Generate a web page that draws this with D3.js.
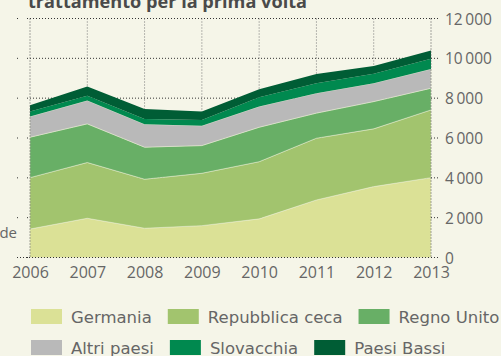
<!DOCTYPE html>
<html>
<head>
<meta charset="utf-8">
<script src="https://cdn.jsdelivr.net/npm/d3@7"></script>
<style>
  html, body { margin: 0; padding: 0; background: #f5f5e8; }
  svg { display: block; }
</style>
</head>
<body>
<svg id="chart" width="501" height="356"></svg>
<script>
// Pazienti in trattamento per la prima volta, per paese di provenienza
const years = [2006, 2007, 2008, 2009, 2010, 2011, 2012, 2013];
const seriesNames = ["Germania", "Repubblica ceca", "Regno Unito", "Altri paesi", "Slovacchia", "Paesi Bassi"];
const germania       = [1430, 1970, 1470, 1600, 1940, 2890, 3560, 4010];
const repubblicaCeca = [2580, 2800, 2460, 2630, 2870, 3100, 2900, 3400];
const regnoUnito     = [2030, 1940, 1610, 1390, 1730, 1260, 1370, 1090];
const altriPaesi     = [1035, 1170, 1150,  990, 1040, 1000,  920,  960];
const slovacchia     = [ 255,  240,  270,  300,  470,  500,  470,  515];
const paesiBassi     = [ 320,  460,  490,  420,  400,  460,  400,  415];
const yTicks = [0, 2000, 4000, 6000, 8000, 10000, 12000];
const colors = ["#dbe196", "#a2c46e", "#68af66", "#b9b9b9", "#00894f", "#005d35"];
const titleText = "trattamento per la prima volta";

const seriesValues = [germania, repubblicaCeca, regnoUnito, altriPaesi, slovacchia, paesiBassi];
const rows = years.map((y, i) => {
  const r = { year: y };
  seriesNames.forEach((n, k) => { r[n] = seriesValues[k][i]; });
  return r;
});

const svg = d3.select("#chart");
const font = "'Open Sans', 'Liberation Sans', sans-serif";
const legendFont = "'DejaVu Sans', 'Open Sans', sans-serif";
const textColor = "#666";

const x = d3.scaleLinear().domain([2006, 2013]).range([30, 431]);
const y = d3.scaleLinear().domain([0, 12000]).range([257.5, 18.5]);

// Titolo (parzialmente fuori dal riquadro in alto)
svg.append("text")
  .attr("x", 28).attr("y", 8)
  .attr("font-family", font).attr("font-weight", 700).attr("font-size", 17)
  .attr("fill", "#4a4a4a")
  .attr("textLength", 279).attr("lengthAdjust", "spacingAndGlyphs")
  .text(titleText);

// Coda dell'etichetta dell'asse verticale
svg.append("text")
  .attr("x", 17).attr("y", 238).attr("text-anchor", "end")
  .attr("font-family", font).attr("font-size", 15).attr("fill", textColor)
  .text("de");

// Griglia punteggiata
const grid = svg.append("g");
grid.selectAll("line.h").data(yTicks.filter(t => t > 0)).join("line")
  .attr("x1", 30).attr("x2", 431)
  .attr("y1", d => y(d)).attr("y2", d => y(d))
  .attr("stroke", "#333").attr("stroke-width", 1).attr("stroke-dasharray", "1,2");
grid.selectAll("line.v").data(years.slice(1, -1)).join("line")
  .attr("x1", d => x(d)).attr("x2", d => x(d))
  .attr("y1", y(12000)).attr("y2", y(0))
  .attr("stroke", "#777").attr("stroke-width", 1).attr("stroke-dasharray", "1,2");

// Aree impilate
const stack = d3.stack().keys(seriesNames);
const layers = stack(rows);
const area = d3.area()
  .x(d => x(d.data.year))
  .y0(d => y(d[0]))
  .y1(d => y(d[1]));
svg.append("g").selectAll("path").data(layers).join("path")
  .attr("d", area)
  .attr("fill", (d, i) => colors[i])
  .attr("stroke", (d, i) => i < 4 ? "#eef0d8" : "none")
  .attr("stroke-width", 0.6)
  .attr("stroke-opacity", 0.8);

// Bordi del grafico e tacche
const frame = svg.append("g");
[2006, 2013].forEach(yr => {
  frame.append("line")
    .attr("x1", x(yr)).attr("x2", x(yr))
    .attr("y1", y(12000)).attr("y2", y(0))
    .attr("stroke", "#555").attr("stroke-width", 1).attr("stroke-dasharray", "1,2");
});
frame.append("line")
  .attr("x1", 17).attr("x2", 431).attr("y1", y(0)).attr("y2", y(0))
  .attr("stroke", "#333").attr("stroke-width", 1).attr("stroke-dasharray", "1,2");
frame.selectAll("line.lt").data(yTicks).join("line")
  .attr("x1", 17).attr("x2", 30)
  .attr("y1", d => y(d)).attr("y2", d => y(d))
  .attr("stroke", "#333").attr("stroke-dasharray", "1,9");
frame.selectAll("line.rt").data(yTicks).join("line")
  .attr("x1", 431).attr("x2", 439)
  .attr("y1", d => y(d)).attr("y2", d => y(d))
  .attr("stroke", "#333").attr("stroke-dasharray", "1,2");

// Asse verticale a destra
const locale = d3.formatLocale({ thousands: "\u2009", grouping: [3], decimal: ",", currency: ["", "€"] });
const fmt = locale.format(",d");
const yAxis = d3.axisRight(y).tickValues(yTicks).tickFormat(fmt).tickSize(0).tickPadding(0);
const gy = svg.append("g").attr("transform", "translate(445,0)").call(yAxis);
gy.select(".domain").remove();
gy.selectAll("text")
  .attr("font-family", font).attr("font-size", 15.5).attr("fill", textColor)
  .attr("dy", "0.36em");

// Asse orizzontale
const xAxis = d3.axisBottom(x).tickValues(years).tickFormat(d3.format("d")).tickSize(0).tickPadding(0);
const gx = svg.append("g").attr("transform", "translate(0,278)").call(xAxis);
gx.select(".domain").remove();
gx.selectAll("text")
  .attr("font-family", font).attr("font-size", 16).attr("fill", textColor)
  .attr("dy", 0);

// Legenda a flusso su due righe
const legendRows = [[0, 1, 2], [3, 4, 5]];
const legend = svg.append("g");
legendRows.forEach((row, ri) => {
  let cx = 31;
  const top = 309 + ri * 31;
  row.forEach(k => {
    legend.append("rect")
      .attr("x", cx).attr("y", top).attr("width", 31).attr("height", 15)
      .attr("fill", colors[k]);
    const t = legend.append("text")
      .attr("x", cx + 40).attr("y", top + 14)
      .attr("font-family", legendFont).attr("font-size", 16.5).attr("fill", textColor)
      .text(seriesNames[k]);
    cx = cx + 40 + t.node().getComputedTextLength() + 16;
  });
});
</script>
</body>
</html>
